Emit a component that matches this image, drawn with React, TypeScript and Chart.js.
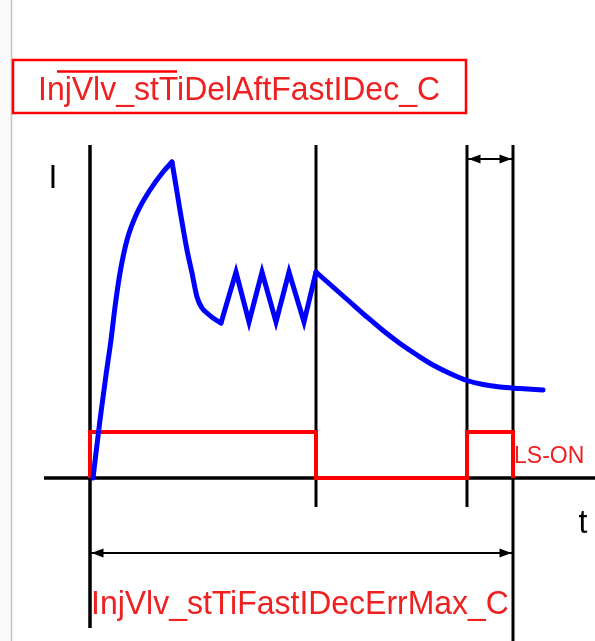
import React, { useEffect, useRef } from "react";
import { Chart, registerables } from "chart.js";

Chart.register(...registerables);

// ---- Data (t in arbitrary time units, I in arbitrary current units) ----
// Current trace, split into phases: rise, fall, chopping, decay
const riseT = [0.3, 1.0, 1.6, 2.1, 2.5, 3.0, 3.7, 4.7, 6.0, 7.3, 8.2];
const riseI = [0.0, 5.8, 10.3, 13.8, 17.1, 20.5, 23.8, 26.5, 28.8, 30.6, 31.6];

const fallT = [8.2, 9.7, 10.2, 10.7, 11.2, 11.7, 12.3, 13.1];
const fallI = [31.6, 22.8, 20.5, 18.1, 17.0, 16.5, 16.0, 15.5];

const chopT = [13.1, 14.6, 15.9, 17.2, 18.6, 19.9, 21.4, 22.6];
const chopI = [15.5, 20.6, 15.6, 20.6, 15.6, 20.6, 15.6, 20.6];

const decayT = [22.6, 24.3, 26.0, 27.7, 29.3, 31.0, 32.7, 34.3, 36.0, 37.7, 39.3, 41.0, 43.0, 45.3];
const decayI = [20.6, 19.1, 17.6, 16.1, 14.75, 13.45, 12.3, 11.3, 10.45, 9.75, 9.35, 9.1, 8.95, 8.8];

const lsT = [0, 0, 22.6, 22.6, 37.7, 37.7, 42.3, 42.3];
const lsV = [0, 4.6, 4.6, 0, 0, 4.6, 4.6, 0];

const markerT = [0, 22.6, 37.7, 42.3];
const markerTop = [33.3, 33.3, 33.3, 33.3];
const markerBottom = [-15.0, -2.9, -2.9, -16.3];

const timeAxisT = [-4.6, 50.5];

const arrowTopT = [37.7, 42.3];
const arrowTopI = 31.9;
const arrowBottomT = [0, 42.3];
const arrowBottomI = -7.5;

const titleText = "InjVlv_stTiDelAftFastIDec_C";
const bottomText = "InjVlv_stTiFastIDecErrMax_C";
const lsLabel = "LS-ON";
const yLabel = "I";
const xLabel = "t";

const FONT = '"Liberation Sans", Arial, sans-serif';
const TEXT_RED = "#ee2020";

export default function App() {
  const ref = useRef<HTMLCanvasElement>(null);

  useEffect(() => {
    const canvas = ref.current!;
    const pts = (ts: number[], vs: number[]) => ts.map((t, i) => ({ x: t, y: vs[i] }));
    const lineDs = (data: any[], color: string, width: number, extra: any = {}) => ({
      type: "line",
      data,
      borderColor: color,
      backgroundColor: color,
      borderWidth: width,
      pointRadius: 0,
      pointHoverRadius: 0,
      tension: 0,
      fill: false,
      showLine: true,
      borderJoinStyle: "miter",
      ...extra,
    });

    const blue = "#0000ff";
    const smooth = { cubicInterpolationMode: "monotone", borderCapStyle: "round", borderJoinStyle: "round" };
    const datasets: any[] = [];
    datasets.push(lineDs(pts(riseT, riseI), blue, 5, smooth));
    datasets.push(lineDs(pts(fallT, fallI), blue, 5, smooth));
    datasets.push(lineDs(pts(chopT, chopI), blue, 5, { borderCapStyle: "round" }));
    datasets.push(lineDs(pts(decayT, decayI), blue, 5, smooth));
    datasets.push(lineDs(pts(lsT, lsV), "#ff0000", 4));
    datasets.push(lineDs(pts(timeAxisT, timeAxisT.map(() => 0)), "#000000", 3.5));
    markerT.forEach((t, i) => {
      datasets.push(
        lineDs(
          [
            { x: t, y: markerTop[i] },
            { x: t, y: markerBottom[i] },
          ],
          "#000000",
          i === 0 ? 3.5 : 3
        )
      );
    });
    datasets.push(
      lineDs(pts(arrowTopT, arrowTopT.map(() => arrowTopI)), "#000000", 2, { arrow: true })
    );
    datasets.push(
      lineDs(pts(arrowBottomT, arrowBottomT.map(() => arrowBottomI)), "#000000", 2, { arrow: true })
    );

    const bgPlugin = {
      id: "bg",
      beforeDraw(chart: any) {
        const ctx = chart.ctx;
        ctx.save();
        ctx.fillStyle = "#ffffff";
        ctx.fillRect(0, 0, chart.width, chart.height);
        ctx.fillStyle = "#fafafa";
        ctx.fillRect(0, 0, 11, chart.height);
        ctx.strokeStyle = "#c4c4c4";
        ctx.lineWidth = 1.5;
        ctx.beginPath();
        ctx.moveTo(11.5, 0);
        ctx.lineTo(11.5, chart.height);
        ctx.stroke();
        ctx.restore();
      },
    };

    const annotPlugin = {
      id: "annot",
      afterDatasetsDraw(chart: any) {
        const ctx = chart.ctx;
        const xs = chart.scales.x;
        const ys = chart.scales.y;
        const px = (t: number) => xs.getPixelForValue(t);
        const py = (v: number) => ys.getPixelForValue(v);

        // arrowheads
        chart.data.datasets.forEach((ds: any, i: number) => {
          if (!ds.arrow) return;
          const meta = chart.getDatasetMeta(i);
          const a = meta.data[0];
          const b = meta.data[meta.data.length - 1];
          const head = (tipX: number, tipY: number, dir: number) => {
            const L = 12;
            const W = 4.5;
            ctx.beginPath();
            ctx.moveTo(tipX, tipY);
            ctx.lineTo(tipX - dir * L, tipY - W);
            ctx.lineTo(tipX - dir * L, tipY + W);
            ctx.closePath();
            ctx.fill();
          };
          ctx.save();
          ctx.fillStyle = "#000000";
          head(a.x + 1.5, a.y, -1);
          head(b.x - 1.5, b.y, 1);
          ctx.restore();
        });

        const text = (
          s: string,
          t: number,
          v: number,
          size: number,
          color: string,
          align: CanvasTextAlign,
          sx: number
        ) => {
          ctx.save();
          ctx.font = `${size}px ${FONT}`;
          ctx.fillStyle = color;
          ctx.textAlign = align;
          ctx.textBaseline = "alphabetic";
          ctx.translate(px(t), py(v));
          ctx.scale(sx, 1);
          ctx.fillText(s, 0, 0);
          ctx.restore();
        };

        // title box
        ctx.save();
        ctx.strokeStyle = "#ff0000";
        ctx.lineWidth = 2.5;
        const bx0 = px(-7.7), bx1 = px(37.6), by0 = py(41.8), by1 = py(36.5);
        ctx.strokeRect(bx0, by0, bx1 - bx0, by1 - by0);
        // overline
        ctx.lineWidth = 2.5;
        ctx.beginPath();
        ctx.moveTo(px(-3.3), py(40.65));
        ctx.lineTo(px(8.7), py(40.65));
        ctx.stroke();
        ctx.restore();

        text(titleText, -5.2, 37.8, 34, TEXT_RED, "left", 0.94);
        text(bottomText, 0.1, -13.6, 34, TEXT_RED, "left", 0.94);
        text(lsLabel, 42.4, 1.5, 23, TEXT_RED, "left", 1);
        text(yLabel, -3.7, 29.0, 34, "#000000", "center", 0.94);
        text(xLabel, 49.3, -5.5, 34, "#000000", "center", 0.94);
      },
    };

    const chart = new Chart(canvas, {
      type: "line",
      data: { datasets },
      options: {
        animation: false,
        responsive: false,
        devicePixelRatio: 1,
        events: [],
        layout: { padding: 0 },
        plugins: { legend: { display: false }, tooltip: { enabled: false }, title: { display: false } },
        scales: {
          x: { type: "linear", display: false, min: -9.0, max: 50.5 },
          y: { type: "linear", display: false, min: -16.3, max: 47.8 },
        },
      },
      plugins: [bgPlugin, annotPlugin],
    } as any);

    return () => chart.destroy();
  }, []);

  return (
    <div style={{ position: "fixed", left: 0, top: 0, width: 595, height: 641 }}>
      <canvas ref={ref} width={595} height={641} style={{ display: "block", width: 595, height: 641 }} />
    </div>
  );
}
